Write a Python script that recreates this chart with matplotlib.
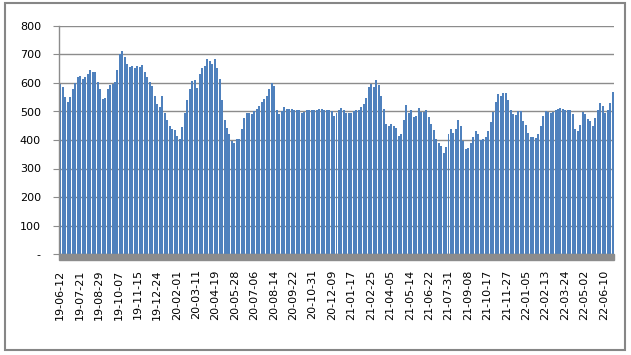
import matplotlib
matplotlib.use("Agg")
import matplotlib.pyplot as plt
from matplotlib.patches import Rectangle
import numpy as np

# one value roughly every 5 days, starting 19-06-12
step_days = 5
values = [
    595, 585, 550, 535, 550, 580, 600, 620, 625, 615,
    620, 630, 645, 638, 638, 605, 580, 545, 548, 578,
    592, 598, 605, 645, 700, 712, 690, 665, 655, 660,
    652, 658, 655, 662, 640, 620, 605, 590, 555, 525,
    515, 555, 495, 470, 450, 440, 435, 415, 405, 445,
    495, 540, 580, 608, 612, 582, 632, 652, 660, 684,
    677, 668, 685, 652, 615, 540, 470, 443, 420, 396,
    388, 404, 405, 438, 476, 494, 495, 492, 500, 510,
    520, 535, 545, 555, 578, 600, 588, 505, 490, 502,
    515, 510, 509, 508, 504, 504, 504, 495, 498, 506,
    504, 504, 505, 507, 508, 509, 506, 506, 505, 500,
    485, 495, 506, 513, 506, 494, 493, 496, 501, 505,
    506, 515, 527, 548, 585, 598, 585, 610, 592, 555,
    510, 455, 450, 455, 448, 442, 415, 420, 470, 522,
    495, 505, 482, 485, 512, 498, 497, 505, 480, 456,
    435, 405, 390, 378, 355, 375, 420, 440, 425, 440,
    470, 448, 395, 367, 372, 390, 412, 430, 420, 400,
    405, 412, 430, 462, 498, 535, 560, 553, 565, 565,
    540, 505, 490, 488, 500, 500, 468, 453, 425, 410,
    411, 406, 420, 450, 485, 502, 497, 495, 499, 504,
    508, 513, 510, 506, 506, 505, 490, 440, 430, 454,
    497, 492, 475, 468, 450, 476, 506, 530, 518, 496,
    505, 530, 570,
]

tick_labels = [
    "19-06-12", "19-07-21", "19-08-29", "19-10-07", "19-11-15", "19-12-24",
    "20-02-01", "20-03-11", "20-04-19", "20-05-28", "20-07-06", "20-08-14",
    "20-09-22", "20-10-31", "20-12-09", "21-01-17", "21-02-25", "21-04-05",
    "21-05-14", "21-06-22", "21-07-31", "21-09-08", "21-10-17", "21-11-27",
    "22-01-05", "22-02-13", "22-03-24", "22-05-02", "22-06-10",
]
tick_every_days = 39

y_ticks = [0, 100, 200, 300, 400, 500, 600, 700, 800]
y_tick_labels = ["-", "100", "200", "300", "400", "500", "600", "700", "800"]

W, H = 631, 355
fig = plt.figure(figsize=(W / 100, H / 100), dpi=100)
plt.rcParams['font.family'] = ['DejaVu Sans']

# outer chart border
fig.patches.append(Rectangle((5 / W, 1 - 350 / H), 620 / W, 347 / H,
                             transform=fig.transFigure, fill=False,
                             edgecolor="#868686", linewidth=1.5))

left, right, top, bottom = 59, 614, 26, 254
ax = fig.add_axes([left / W, 1 - bottom / H, (right - left) / W, (bottom - top) / H])

x = np.arange(len(values)) * step_days
ax.bar(x, values, width=step_days * 0.8, color="#4F81BD", linewidth=0)

ax.set_xlim(-2.5, x[-1] + 2.5)
ax.set_ylim(0, 800)
ax.set_yticks(y_ticks)
ax.set_yticklabels(y_tick_labels, fontsize=8)
ax.yaxis.grid(True, color="#8C8C8C", linewidth=1)
ax.set_axisbelow(True)

ax.set_xticks(np.arange(len(tick_labels)) * tick_every_days)
ax.set_xticklabels(tick_labels, rotation=90, fontsize=8)
ax.tick_params(axis="x", length=0, pad=11)
ax.tick_params(axis="y", length=4, color="#8C8C8C", pad=9)

for s in ["top", "right", "bottom"]:
    ax.spines[s].set_visible(False)
ax.spines["left"].set_color("#8C8C8C")
ax.spines["left"].set_linewidth(1)

# floor band
band_h = 6 / (bottom - top)
ax.add_patch(Rectangle((0, -band_h), 1, band_h, transform=ax.transAxes,
                       color="#8C8C8C", clip_on=False, zorder=3))

fig.savefig("out.png", dpi=100)
